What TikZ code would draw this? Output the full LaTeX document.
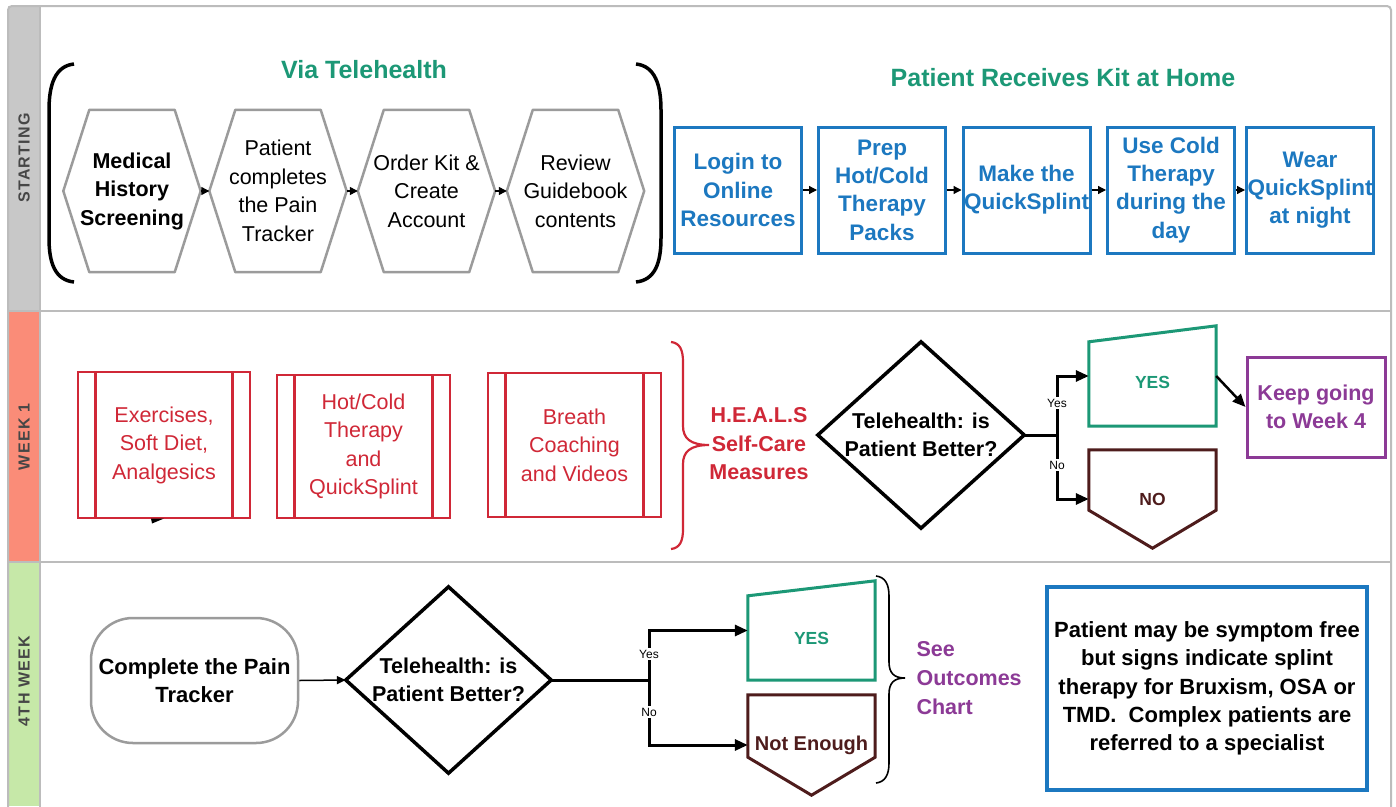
\documentclass[tikz,border=0pt]{standalone}
\usepackage{fontspec}
\setmainfont{Liberation Sans}
\usetikzlibrary{arrows.meta,calc}
\definecolor{cframe}{RGB}{188,188,188}
\definecolor{cstart}{RGB}{200,200,200}
\definecolor{cweekone}{RGB}{250,140,120}
\definecolor{cweekfour}{RGB}{198,232,168}
\definecolor{clabel}{RGB}{70,70,70}
\definecolor{cteal}{RGB}{28,152,118}
\definecolor{cblue}{RGB}{28,120,192}
\definecolor{cred}{RGB}{208,40,55}
\definecolor{cbrown}{RGB}{78,28,28}
\definecolor{cpurple}{RGB}{140,58,150}
\definecolor{chex}{RGB}{155,155,155}
\newcommand\hexoutline[1]{\draw[hexline] (#1.west) -- ([xshift=26pt]#1.north west) -- ([xshift=-26pt]#1.north east) -- (#1.east) -- ([xshift=-26pt]#1.south east) -- ([xshift=26pt]#1.south west) -- cycle;}
\newcommand\diamondoutline[1]{\draw[decline] (#1.west) -- (#1.north) -- (#1.east) -- (#1.south) -- cycle;}
\begin{document}
\begin{tikzpicture}[x=1pt,y=-1pt,
  laneline/.style={draw=cframe,line width=2pt},
  lanelabel/.style={rotate=90,text=clabel,font=\fontsize{16}{18}\selectfont\bfseries\addfontfeature{LetterSpace=8}},
  hexbox/.style={minimum width=137pt,minimum height=162pt,inner sep=0pt,align=center,font=\fontsize{21.5}{28.5}\selectfont},
  hexline/.style={draw=chex,line width=2.5pt,line join=round},
  smallarrow/.style={line width=1.2pt,-{Triangle[length=8pt,width=8pt]}},
  bluebox/.style={draw=cblue,line width=3pt,minimum width=127pt,minimum height=126pt,inner sep=0pt,align=center,text=cblue,font=\fontsize{22.5}{28.3}\selectfont\bfseries},
  redbox/.style={draw=cred,line width=2.5pt,minimum width=172pt,minimum height=144pt,inner sep=0pt,align=center,text=cred,font=\fontsize{21.5}{28.5}\selectfont,
    path picture={\draw[cred,line width=2.5pt] ([xshift=17.5pt]path picture bounding box.north west) -- ([xshift=17.5pt]path picture bounding box.south west);
                  \draw[cred,line width=2.5pt] ([xshift=-17.5pt]path picture bounding box.north east) -- ([xshift=-17.5pt]path picture bounding box.south east);}},
  decbox/.style={inner sep=0pt,align=center,font=\fontsize{21.5}{28.5}\selectfont\bfseries},
  decline/.style={draw=black,line width=3.5pt,line join=miter},
  conn/.style={line width=3pt},
  connarrow/.style={line width=3pt,-{Triangle[length=13pt,width=11pt]}},
  branchlabel/.style={fill=white,inner sep=1.5pt,font=\fontsize{12}{14}\selectfont},
  yesshape/.style={draw=cteal,line width=3pt,line join=miter},
  noshape/.style={draw=cbrown,line width=3pt,line join=miter},
  title/.style={text=cteal,font=\fontsize{25}{30}\selectfont\bfseries},
]
\useasboundingbox (0,0) rectangle (1396,806);
\fill[white] (0,0) rectangle (1396,806);
% lanes
\fill[cstart] (8,6) rectangle (40,311);
\fill[cweekone] (8,311) rectangle (40,562);
\fill[cweekfour] (8,562) rectangle (40,806);
\draw[laneline,rounded corners=4pt] (8,808) -- (8,6) -- (1391,6) -- (1391,808);
\draw[laneline] (8,311) -- (1391,311);
\draw[laneline] (8,562) -- (1391,562);
\draw[laneline] (40,6) -- (40,808);
\node[lanelabel] (lstart) at (24,158) {STARTING};
\node[lanelabel] (lweekone) at (24,437) {WEEK 1};
\node[lanelabel] (lweekfour) at (24,681) {4TH WEEK};

% ---------- STARTING ----------
\node[title] (via) at (364,70) {Via Telehealth};
\draw[line width=3.5pt] (74,64) .. controls (55,66) and (49,85) .. (49,110) -- (49,238) .. controls (49,263) and (55,280) .. (74,282);
\draw[line width=3.5pt] (636,64) .. controls (655,66) and (661,85) .. (661,110) -- (661,238) .. controls (661,263) and (655,280) .. (636,282);

\node[hexbox] (h1) at (132,191) {\bfseries Medical\\\bfseries History\\\bfseries Screening};
\node[hexbox] (h2) at (278,191) {Patient\\completes\\the Pain\\Tracker};
\node[hexbox] (h3) at (426.5,191) {Order Kit \&\\Create\\Account};
\node[hexbox] (h4) at (575.5,191) {Review\\Guidebook\\contents};
\hexoutline{h1}\hexoutline{h2}\hexoutline{h3}\hexoutline{h4}
\draw[smallarrow] (h1.east) -- (h2.west);
\draw[smallarrow] (h2.east) -- (h3.west);
\draw[smallarrow] (h3.east) -- (h4.west);

\node[title] (kit) at (1063,78) {Patient Receives Kit at Home};
\node[bluebox] (b1) at (738,190) {Login to\\Online\\Resources};
\node[bluebox] (b2) at (882,190) {Prep\\Hot/Cold\\Therapy\\Packs};
\node[bluebox] (b3) at (1026.5,190) {Make the\\QuickSplint};
\node[bluebox] (b4) at (1171,190) {Use Cold\\Therapy\\during the\\day};
\node[bluebox] (b5) at (1310,190) {Wear\\QuickSplint\\at night};
\draw[smallarrow] (b1.east) -- (b2.west);
\draw[smallarrow] (b2.east) -- (b3.west);
\draw[smallarrow] (b3.east) -- (b4.west);
\draw[smallarrow] (b4.east) -- (b5.west);

% ---------- WEEK 1 ----------
\node[redbox,minimum height=146pt] (r1) at (164,445) {Exercises,\\Soft Diet,\\Analgesics};
\node[redbox,minimum width=173pt,minimum height=143pt] (r2) at (363.5,446.5) {Hot/Cold\\Therapy\\and\\QuickSplint};
\node[redbox,minimum width=173pt] (r3) at (574.5,445) {Breath\\Coaching\\and Videos};
\fill[black] (151,518.5) -- (164,518.5) -- (152,523.5) -- cycle;
\draw[cred,line width=2.2pt] (671,342) .. controls (680,343) and (683,350) .. (683,362) -- (683,426) .. controls (683,438) and (690,445) .. (709,445) .. controls (690,445) and (683,452) .. (683,464) -- (683,529) .. controls (683,541) and (680,548) .. (671,549);
\node[decbox,text=cred] (heals) at (759,444) {H.E.A.L.S\\Self-Care\\Measures};

\node[decbox,minimum width=206pt,minimum height=186pt] (d1) at (921,435) {Telehealth: is\\Patient Better?};
\diamondoutline{d1}
\node[minimum width=127pt,minimum height=100pt,inner sep=0pt,text=cteal,font=\fontsize{17.5}{20}\selectfont\bfseries,text height=24.5pt] (yes1) at (1152.5,376) {YES};
\draw[yesshape] (yes1.south west) -- (yes1.south east) -- (yes1.north east) -- ([yshift=-16pt]yes1.north west) -- cycle;
\node[minimum width=127pt,minimum height=98pt,inner sep=0pt,text=cbrown,font=\fontsize{17.5}{20}\selectfont\bfseries] (no1) at (1152.5,499) {NO};
\draw[noshape] (no1.north west) -- (no1.north east) -- ([yshift=38pt]no1.south east) -- (no1.south) -- ([yshift=38pt]no1.south west) -- cycle;
\node[draw=cpurple,line width=3pt,minimum width=138pt,minimum height=100pt,inner sep=0pt,align=center,text=cpurple,font=\fontsize{21.5}{28.5}\selectfont\bfseries] (keep) at (1316,407) {Keep going\\to Week 4};
\coordinate (j1) at (1057,435);
\draw[conn] (d1.east) -- (j1);
\draw[connarrow] (j1) |- (yes1.west);
\draw[connarrow] (j1) |- (no1.west);
\node[branchlabel] (yl1) at (1057,403) {Yes};
\node[branchlabel] (nl1) at (1057,465) {No};
\draw[line width=2.5pt,-{Triangle[length=13pt,width=11pt]}] (yes1.east) -- (keep.west);

% ---------- 4TH WEEK ----------
\node[draw=chex,line width=2.5pt,rounded corners=42pt,minimum width=207pt,minimum height=125pt,inner sep=0pt,align=center,font=\fontsize{22}{28.5}\selectfont\bfseries] (term) at (194.5,680.5) {Complete the Pain\\Tracker};
\node[decbox,minimum width=205pt,minimum height=186pt] (d2) at (448.5,680) {Telehealth: is\\Patient Better?};
\diamondoutline{d2}
\draw[line width=1.5pt,-{Triangle[length=9pt,width=8pt]}] (term.east) -- (d2.west);
\node[minimum width=127pt,minimum height=99pt,inner sep=0pt,text=cteal,font=\fontsize{17.5}{20}\selectfont\bfseries,text height=27.5pt] (yes2) at (811.5,630.5) {YES};
\draw[yesshape] (yes2.south west) -- (yes2.south east) -- (yes2.north east) -- ([yshift=-15pt]yes2.north west) -- cycle;
\node[minimum width=127pt,minimum height=100pt,inner sep=0pt,text=cbrown,font=\fontsize{20}{22}\selectfont\bfseries] (ne2) at (811.5,745) {Not Enough};
\draw[noshape] (ne2.north west) -- (ne2.north east) -- ([yshift=38pt]ne2.south east) -- (ne2.south) -- ([yshift=38pt]ne2.south west) -- cycle;
\coordinate (j2) at (649,680);
\draw[conn] (d2.east) -- (j2);
\draw[connarrow] (j2) |- (yes2.west);
\draw[connarrow] (j2) |- (ne2.west);
\node[branchlabel] (yl2) at (649,654) {Yes};
\node[branchlabel] (nl2) at (649,712) {No};
\draw[line width=1.6pt] (876,576) .. controls (885,577) and (889,584) .. (889,596) -- (889,662) .. controls (889,673) and (894,678) .. (905,678) .. controls (894,678) and (889,683) .. (889,694) -- (889,763) .. controls (889,775) and (885,782) .. (876,783);
\node[anchor=west,align=left,text=cpurple,font=\fontsize{21.5}{28.8}\selectfont\bfseries] (see) at (913,678) {See\\Outcomes\\Chart};
\node[draw=cblue,line width=4pt,minimum width=320pt,minimum height=203pt,inner sep=0pt,align=center,font=\fontsize{22}{28.3}\selectfont\bfseries] (info) at (1207,688.5) {Patient may be symptom free\\but signs indicate splint\\therapy for Bruxism, OSA or\\TMD.~ Complex patients are\\referred to a specialist};
\end{tikzpicture}
\end{document}
